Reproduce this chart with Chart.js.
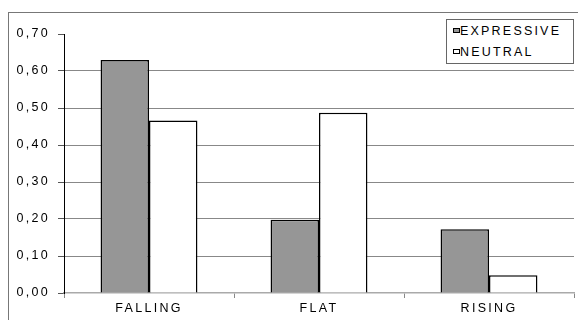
<!DOCTYPE html>
<html>
<head>
<meta charset="utf-8">
<script src="https://cdn.jsdelivr.net/npm/chart.js@4"></script>
<style>
  html, body { margin: 0; padding: 0; background: #fff; }
  #wrap { position: relative; width: 579px; height: 320px; overflow: hidden; }
  #frame { position: absolute; left: 8px; top: 12px; width: 570px; height: 320px; border-left: 1px solid #777; border-top: 1px solid #777; box-sizing: border-box; }
  canvas { position: absolute; left: 0; top: 0; }
  #legend { position: absolute; left: 446px; top: 19px; width: 128px; height: 45px; border: 1px solid #666; background: #fff; box-sizing: border-box; font-family: "Liberation Sans", Arial, sans-serif; font-size: 12.5px; letter-spacing: 2.2px; color: #000; }
  .item { position: absolute; left: 6px; height: 14px; line-height: 14px; white-space: nowrap; }
  .sw { display: inline-block; width: 5px; height: 3px; border: 1px solid #000; margin-right: 0px; vertical-align: 2px; }
</style>
</head>
<body>
<div id="wrap">
  <div id="frame"></div>
  <canvas id="c" width="579" height="320"></canvas>
  <div id="legend"></div>
</div>
<script>
const categories = ["FALLING", "FLAT", "RISING"];
const expressive = [0.63, 0.198, 0.172];
const neutral = [0.466, 0.487, 0.048];
const seriesNames = ["EXPRESSIVE", "NEUTRAL"];
const yTicks = [0, 0.1, 0.2, 0.3, 0.4, 0.5, 0.6, 0.7];

const colors = ["#969696", "#ffffff"];

const leg = document.getElementById('legend');
seriesNames.forEach((n, i) => {
  const d = document.createElement('div');
  d.className = 'item';
  d.style.top = (i === 0 ? 4 : 25) + 'px';
  d.innerHTML = '<span class="sw" style="background:' + colors[i] + '"></span>' + n;
  leg.appendChild(d);
});

const spacing = {
  id: 'spacing',
  beforeUpdate(chart) { chart.ctx.letterSpacing = '2.3px'; },
  beforeDraw(chart) { chart.ctx.letterSpacing = '2.3px'; }
};

new Chart(document.getElementById('c'), {
  type: 'bar',
  data: {
    labels: categories,
    datasets: [
      { label: seriesNames[0], data: expressive, backgroundColor: colors[0], borderColor: '#000', borderWidth: 1.5 },
      { label: seriesNames[1], data: neutral, backgroundColor: colors[1], borderColor: '#000', borderWidth: 1.5 }
    ]
  },
  plugins: [spacing],
  options: {
    responsive: false,
    animation: false,
    devicePixelRatio: 1,
    layout: { padding: { left: 0, right: 5, top: 34, bottom: 0 } },
    datasets: { bar: { categoryPercentage: 0.57, barPercentage: 1.0 } },
    plugins: { legend: { display: false }, tooltip: { enabled: false } },
    scales: {
      x: {
        grid: { offset: true, drawOnChartArea: false, drawTicks: true, tickLength: 5, color: '#888' },
        border: { color: '#aaa', width: 1.5 },
        ticks: { color: '#000', font: { family: 'Liberation Sans', size: 12.5 }, padding: 3 },
        afterFit: s => { s.height = 27; }
      },
      y: {
        min: 0, max: 0.7,
        afterBuildTicks: s => { s.ticks = yTicks.map(v => ({ value: v })); },
        grid: {
          color: ctx => (ctx.tick && (ctx.tick.value === 0 || Math.abs(ctx.tick.value - 0.7) < 1e-9)) ? 'rgba(0,0,0,0)' : '#888',
          tickColor: '#555',
          tickLength: 6,
          lineWidth: 1
        },
        border: { color: '#000', width: 1 },
        ticks: {
          color: '#000', font: { family: 'Liberation Sans', size: 12.5 }, padding: 8,
          callback: v => v.toFixed(2).replace('.', ',')
        },
        afterFit: s => { s.width = 64; }
      }
    }
  }
});
</script>
</body>
</html>
